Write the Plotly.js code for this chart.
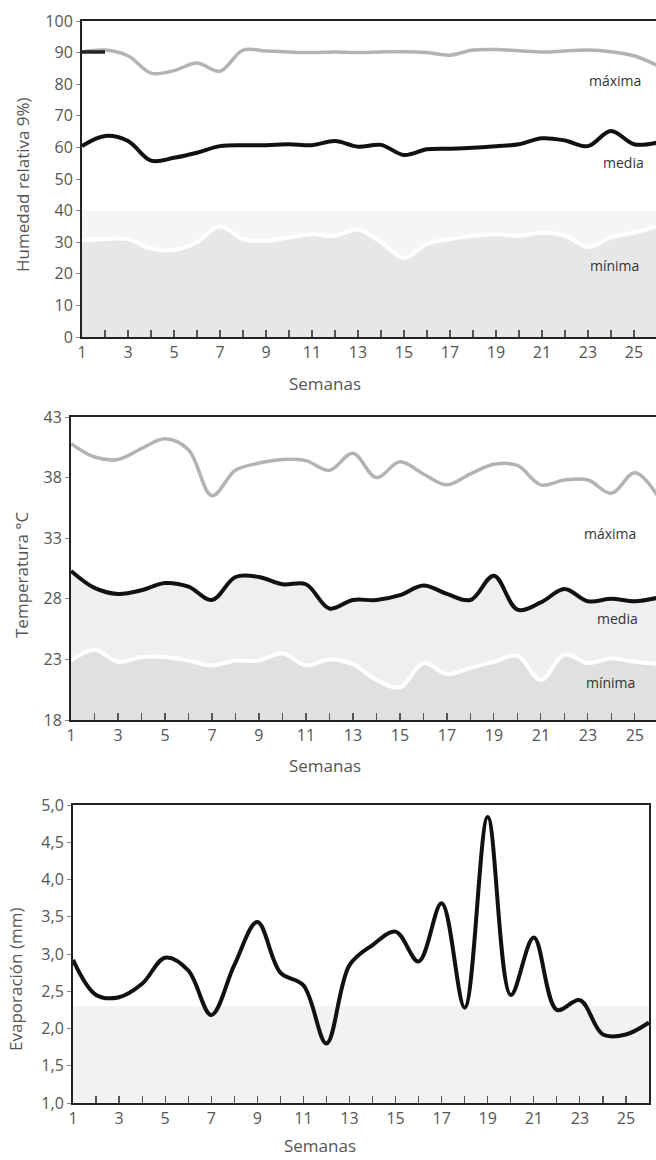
<!DOCTYPE html>
<html>
<head>
<meta charset="utf-8">
<script src="https://cdn.plot.ly/plotly-3.0.1.min.js"></script>
<style>html,body{margin:0;padding:0;background:#fff;}#chart{width:656px;height:1160px;}</style>
</head>
<body>
<div id="chart"></div>
<script>
// ---- data ----
const weeks = [1,2,3,4,5,6,7,8,9,10,11,12,13,14,15,16,17,18,19,20,21,22,23,24,25,26];
const weekTicks = [1,3,5,7,9,11,13,15,17,19,21,23,25];

// Humedad relativa (%)
const humMax = [90.2,90.8,89.0,83.5,84.3,86.7,84.1,90.8,90.5,90.2,90.0,90.2,90.0,90.2,90.3,90.0,89.2,90.8,91.0,90.6,90.2,90.5,90.8,90.3,89.0,86.0];
const humMed = [60.4,63.6,62.0,55.8,56.7,58.3,60.4,60.7,60.7,61.0,60.7,62.0,60.2,60.8,57.6,59.4,59.6,59.9,60.4,61.0,62.9,62.2,60.4,65.2,61.0,61.5];
const humMin = [30.5,31.0,31.0,28.0,27.5,30.0,35.0,31.0,30.5,31.5,32.5,32.0,34.0,30.0,25.0,29.5,31.0,32.0,32.5,32.0,33.0,32.0,28.5,31.5,33.0,35.0];

// Temperatura (°C)
const tMax = [40.8,39.7,39.5,40.4,41.2,40.3,36.5,38.6,39.2,39.5,39.4,38.6,40.0,38.0,39.3,38.3,37.4,38.3,39.1,39.0,37.4,37.8,37.8,36.7,38.4,36.4];
const tMed = [30.3,28.9,28.4,28.7,29.3,29.0,27.9,29.8,29.8,29.2,29.2,27.2,27.9,27.9,28.3,29.1,28.4,27.9,29.9,27.1,27.7,28.8,27.8,28.0,27.8,28.1];
const tMin = [22.9,23.8,22.8,23.2,23.2,22.9,22.5,22.9,22.9,23.5,22.5,23.0,22.6,21.3,20.7,22.7,21.8,22.3,22.8,23.3,21.3,23.4,22.7,23.1,22.8,22.6];

// Evaporación (mm)
const evap = [2.92,2.45,2.42,2.60,2.95,2.78,2.18,2.85,3.43,2.75,2.58,1.80,2.85,3.12,3.30,2.90,3.68,2.28,4.84,2.45,3.22,2.25,2.38,1.92,1.92,2.08];

const humTicks = [0,10,20,30,40,50,60,70,80,90,100];
const tempTicks = [18,23,28,33,38,43];
const evapTicks = [1.0,1.5,2.0,2.5,3.0,3.5,4.0,4.5,5.0];

// ---- helpers ----
const W = 656, H = 1160;
const px = v => v / W;
const py = v => 1 - v / H;
const FONT = 'Open Sans, Liberation Sans, sans-serif';
const TICKFONT = {family: FONT, size: 16, color: '#555'};

function xAxis(domain, range, anchor) {
  return {
    domain: domain, range: range, anchor: anchor, fixedrange: true,
    tickmode: 'array', tickvals: weeks,
    ticktext: weeks.map(w => weekTicks.includes(w) ? String(w) : ''),
    ticks: 'inside', ticklen: 7, tickwidth: 1.2, tickcolor: '#555',
    showline: true, linecolor: '#222', linewidth: 2, mirror: true,
    showgrid: false, zeroline: false, tickfont: TICKFONT
  };
}
function yAxis(domain, range, anchor, vals, text, mirror) {
  return {
    domain: domain, range: range, anchor: anchor, fixedrange: true,
    tickmode: 'array', tickvals: vals, ticktext: text,
    ticks: 'outside', ticklen: 4, tickwidth: 1, tickcolor: '#888',
    showline: true, linecolor: '#222', linewidth: 2, mirror: mirror,
    showgrid: false, zeroline: false, tickfont: TICKFONT
  };
}

const spline = {shape: 'spline', smoothing: 1};

const traces = [
  // Panel 1: humedad
  {x: weeks, y: humMin, xaxis: 'x', yaxis: 'y', mode: 'lines', fill: 'tozeroy', fillcolor: '#e7e7e7',
   line: Object.assign({color: '#ffffff', width: 4}, spline), hoverinfo: 'skip'},
  {x: weeks, y: humMed, xaxis: 'x', yaxis: 'y', mode: 'lines',
   line: Object.assign({color: '#111111', width: 4}, spline)},
  {x: weeks, y: humMax, xaxis: 'x', yaxis: 'y', mode: 'lines',
   line: Object.assign({color: '#b3b3b3', width: 3.5}, spline)},
  {x: weeks.slice(0, 2), y: humMax.slice(0, 2).map(() => humMax[0]), xaxis: 'x', yaxis: 'y', mode: 'lines',
   line: {color: '#222', width: 3.5}},

  // Panel 2: temperatura
  {x: weeks, y: tMed, xaxis: 'x2', yaxis: 'y2', mode: 'lines', fill: 'tozeroy', fillcolor: '#efefef',
   line: Object.assign({color: '#111111', width: 4}, spline)},
  {x: weeks, y: tMin, xaxis: 'x2', yaxis: 'y2', mode: 'lines', fill: 'tozeroy', fillcolor: '#e0e0e0',
   line: Object.assign({color: '#ffffff', width: 4}, spline)},
  {x: weeks, y: tMax, xaxis: 'x2', yaxis: 'y2', mode: 'lines',
   line: Object.assign({color: '#b3b3b3', width: 3.5}, spline)},

  // Panel 3: evaporación
  {x: weeks, y: evap, xaxis: 'x3', yaxis: 'y3', mode: 'lines',
   line: Object.assign({color: '#111111', width: 4}, spline)}
];

const labelFont = {family: FONT, size: 14, color: '#333'};
const titleFont = {family: FONT, size: 17, color: '#555'};

function ann(text, x, y, font, angle) {
  return {text: text, xref: 'paper', yref: 'paper', x: px(x), y: py(y),
          xanchor: 'center', yanchor: 'middle', showarrow: false, font: font, textangle: angle || 0};
}

const layout = {
  width: W, height: H,
  margin: {l: 0, r: 0, t: 0, b: 0},
  paper_bgcolor: '#ffffff', plot_bgcolor: '#ffffff',
  showlegend: false,
  separators: ', ',
  xaxis:  xAxis([px(82), 1], [1, 25.96], 'y'),
  yaxis:  yAxis([py(337), py(21)], [0, 100], 'x', humTicks, humTicks.map(String), false),
  xaxis2: xAxis([px(71), 1], [1, 25.9], 'y2'),
  yaxis2: yAxis([py(720), py(417)], [18, 43], 'x2', tempTicks, tempTicks.map(String), false),
  xaxis3: xAxis([px(73), px(649)], [1, 26], 'y3'),
  yaxis3: yAxis([py(1103), py(805)], [1, 5], 'x3', evapTicks, evapTicks.map(v => v.toFixed(1).replace('.', ',')), true),
  shapes: [
    {type: 'rect', xref: 'x', yref: 'y', x0: 1, x1: 26, y0: 0, y1: 40, fillcolor: '#f5f5f5', line: {width: 0}, layer: 'below'},
    {type: 'rect', xref: 'x3', yref: 'y3', x0: 1, x1: 26, y0: 1, y1: 2.3, fillcolor: '#f2f2f2', line: {width: 0}, layer: 'below'}
  ],
  annotations: [
    ann('máxima', 615, 80, labelFont),
    ann('media', 623, 163, labelFont),
    ann('mínima', 614, 265, labelFont),
    ann('máxima', 610, 533, labelFont),
    ann('media', 617, 618, labelFont),
    ann('mínima', 610, 682, labelFont),
    ann('Humedad relativa 9%)', 22, 185, titleFont, -90),
    ann('Temperatura °C', 21, 575, titleFont, -90),
    ann('Evaporación (mm)', 15, 980, titleFont, -90),
    ann('Semanas', 325, 383, titleFont),
    ann('Semanas', 325, 765, titleFont),
    ann('Semanas', 320, 1145, titleFont)
  ]
};

Plotly.newPlot('chart', traces, layout, {staticPlot: true, displayModeBar: false});
</script>
</body>
</html>
